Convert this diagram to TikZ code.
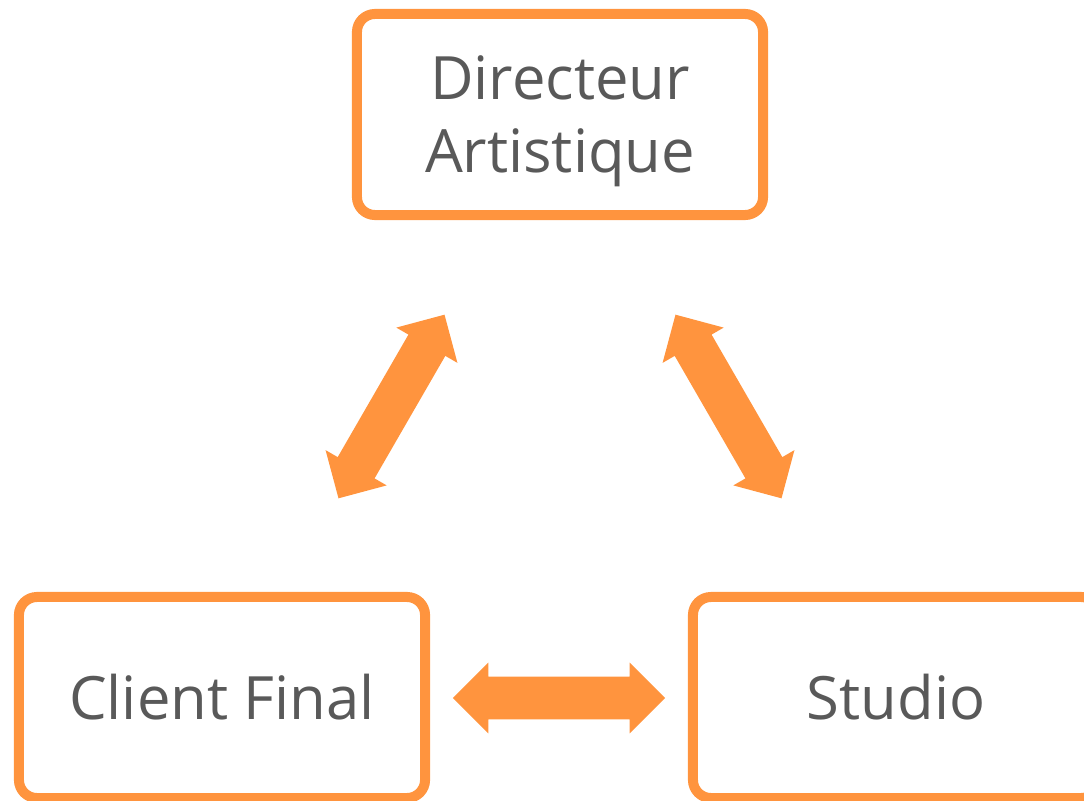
\documentclass[tikz,border=0pt]{standalone}
\usepackage{fontspec}
\setmainfont{Open Sans}
\usetikzlibrary{shapes.arrows}
\definecolor{boxorange}{RGB}{255,148,62}
\definecolor{textgrey}{RGB}{89,89,89}
\tikzset{
    rolebox/.style={draw=boxorange, line width=0.25cm, rounded corners=0.45cm,
        minimum width=10.15cm, minimum height=5.025cm, text=textgrey,
        align=center, font=\fontsize{42.5}{52}\selectfont},
    linkarrow/.style={double arrow, fill=boxorange, draw=none, inner xsep=0pt,
        inner ysep=0.525cm, minimum height=5.3cm, double arrow head extend=0.35cm}
}
\begin{document}
\begin{tikzpicture}[x=0.025cm, y=-0.025cm]
            \clip (0,0) rectangle (1084,801);
            \useasboundingbox (0,0) rectangle (1084,801);

            \node[rolebox, text depth=0pt] (directeur) at (560, 114.5) {Directeur\\Artistique};
            \node[rolebox] (client) at (222, 697.5) {Client Final};
            \node[rolebox] (studio) at (896, 697.5) {Studio};

            \node[linkarrow, rotate=60] (linkleft) at (391.5, 406.5) {};
            \node[linkarrow, rotate=-60] (linkright) at (728.5, 406.5) {};
            \node[linkarrow] (linkbottom) at (559, 698) {};
        \end{tikzpicture}
\end{document}
